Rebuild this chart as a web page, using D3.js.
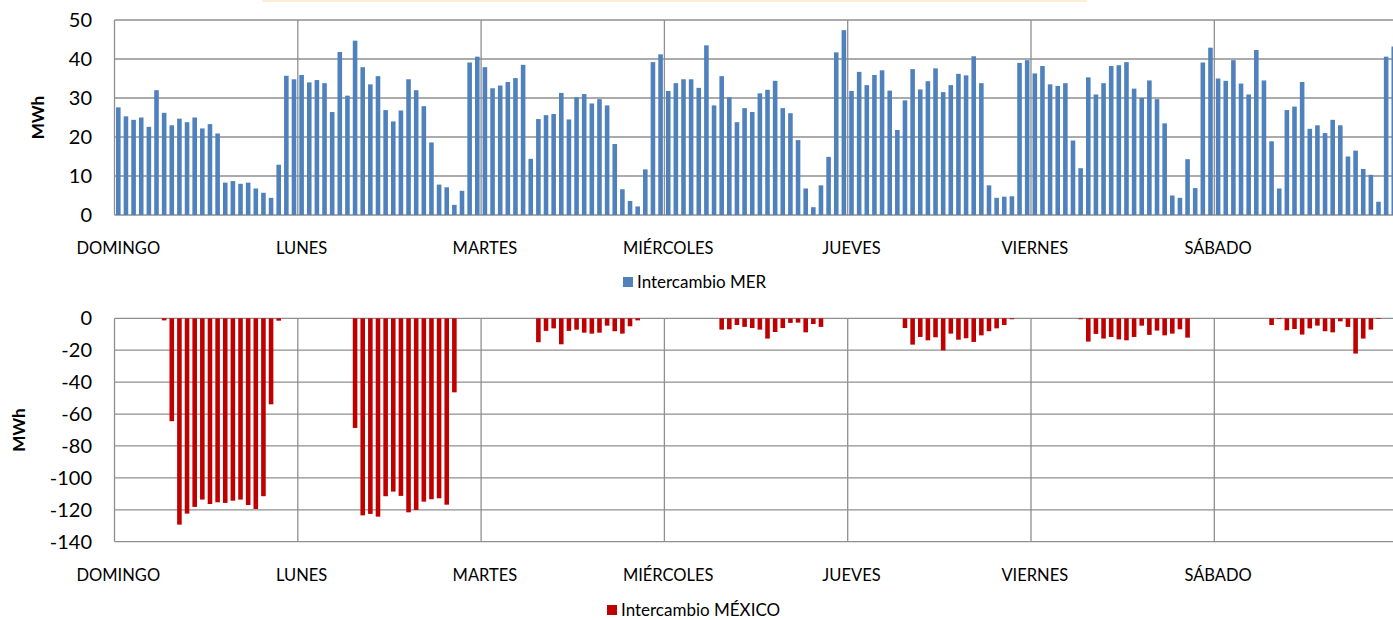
<!DOCTYPE html>
<html>
<head>
<meta charset="utf-8">
<script src="https://cdn.jsdelivr.net/npm/d3@7"></script>
<style>
  body { margin: 0; background: #fff; }
  svg { display: block; font-family: Lato, "Open Sans", sans-serif; }
  .grid line { stroke: #8f8f8f; stroke-width: 1.3; }
  .tick-label { font-size: 20px; fill: #000; }
  .day-label { font-size: 16.5px; fill: #000; }
  .legend-text { font-size: 17px; fill: #000; }
  .axis-title { font-size: 17px; font-weight: bold; fill: #000; }
</style>
</head>
<body>
<div id="chart"></div>
<script>
var days = ["DOMINGO", "LUNES", "MARTES", "MIÉRCOLES", "JUEVES", "VIERNES", "SÁBADO"];

// Intercambio MER, MWh per hour (24 per day)
var merDomingo  = [27.6,25.3,24.4,25.0,22.6,32.0,26.2,23.0,24.7,23.8,25.0,22.2,23.3,20.9,8.3,8.7,8.0,8.3,6.8,5.7,4.4,12.9,35.7,34.8];
var merLunes    = [35.9,34.0,34.6,33.8,26.4,41.8,30.6,44.7,37.9,33.5,35.6,26.9,24.0,26.8,34.8,32.0,27.9,18.6,7.8,7.1,2.6,6.2,39.1,40.6];
var merMartes   = [37.9,32.5,33.2,34.1,35.1,38.5,14.4,24.6,25.6,25.9,31.3,24.5,30.2,31.0,28.6,29.7,28.1,18.2,6.6,3.6,2.2,11.7,39.2,41.2];
var merMiercoles= [31.8,33.8,34.8,34.8,32.6,43.5,28.1,35.6,30.2,23.8,27.4,26.4,31.2,32.1,34.4,27.4,26.1,19.2,6.8,2.0,7.6,14.9,41.7,47.4];
var merJueves   = [31.8,36.7,33.3,35.9,37.1,31.9,21.8,29.4,37.4,32.2,34.3,37.6,31.5,33.3,36.2,35.8,40.7,33.8,7.6,4.4,4.7,4.8,39.0,39.7];
var merViernes  = [36.3,38.2,33.5,33.1,33.8,19.1,12.0,35.3,30.9,33.8,38.2,38.4,39.2,32.4,30.0,34.5,29.7,23.5,5.0,4.4,14.3,6.9,39.1,42.9];
var merSabado   = [35.0,34.4,39.7,33.7,30.9,42.3,34.5,18.9,6.8,26.9,27.8,34.1,22.1,23.0,21.0,24.4,23.0,15.0,16.5,11.8,10.3,3.4,40.6,43.2];

// Intercambio MÉXICO, MWh per hour (24 per day)
var mexDomingo  = [0,0,0,0,0,0,-1.3,-64.5,-129.3,-122.4,-118.2,-113.6,-116.4,-115.3,-115.7,-114.3,-113.6,-117.0,-119.5,-111.5,-53.9,-1.5,0,0];
var mexLunes    = [0,0,0,0,0,0,0,-68.7,-123.5,-122.6,-124.3,-111.5,-108.6,-111.3,-121.6,-120.1,-114.9,-113.4,-112.8,-116.8,-46.4,0,0,0];
var mexMartes   = [0,0,0,0,0,0,0,-15.0,-7.9,-6.3,-16.3,-7.9,-7.1,-9.0,-9.6,-9.0,-4.6,-8.1,-9.6,-5.0,-1.3,0,0,0];
var mexMiercoles= [0,0,0,0,0,0,0,-7.1,-6.9,-4.2,-5.4,-6.1,-7.1,-12.7,-8.6,-6.1,-2.9,-2.7,-8.8,-3.6,-5.4,0,0,0];
var mexJueves   = [0,0,0,0,0,0,0,-6.1,-16.5,-11.7,-13.8,-11.9,-20.1,-9.6,-13.4,-12.5,-14.8,-10.7,-8.1,-6.3,-4.2,-0.6,0,0];
var mexViernes  = [0,0,0,0,0,0,-0.6,-14.6,-9.8,-12.7,-11.7,-13.2,-13.8,-11.7,-4.6,-10.4,-7.7,-10.7,-9.6,-6.9,-12.1,0,0,0];
var mexSabado   = [0,0,0,0,0,0,0,-4.2,-0.5,-7.5,-6.7,-10.2,-6.3,-4.6,-8.1,-8.8,-1.9,-5.4,-22.1,-12.7,-7.1,-0.4,0,0];

var merTicks = [0, 10, 20, 30, 40, 50];
var mexTicks = [0, -20, -40, -60, -80, -100, -120, -140];

var mer = [].concat(merDomingo, merLunes, merMartes, merMiercoles, merJueves, merViernes, merSabado);
var mex = [].concat(mexDomingo, mexLunes, mexMartes, mexMiercoles, mexJueves, mexViernes, mexSabado);

var width = 1393, height = 620,
    left = 114.5, right = 1397.6;

var svg = d3.select("#chart").append("svg")
    .attr("width", width)
    .attr("height", height);

// faint edge of a box cut off at the top
svg.append("rect")
    .attr("x", 262).attr("y", -6)
    .attr("width", 825).attr("height", 8)
    .attr("fill", "#fcefd6");

var x = d3.scaleBand()
    .domain(d3.range(168))
    .range([left, right])
    .paddingInner(0.4)
    .paddingOuter(0.2);

var step = (right - left) / 168;

function panel(opts) {
  var g = svg.append("g");
  var y = d3.scaleLinear().domain(opts.domain).range([opts.bottom, opts.top]);

  var grid = g.append("g").attr("class", "grid");
  grid.selectAll(".h")
      .data(opts.ticks)
    .enter().append("line")
      .attr("x1", left).attr("x2", right)
      .attr("y1", function(d) { return y(d); })
      .attr("y2", function(d) { return y(d); });
  grid.selectAll(".v")
      .data(d3.range(8))
    .enter().append("line")
      .attr("x1", function(d) { return left + d * 24 * step; })
      .attr("x2", function(d) { return left + d * 24 * step; })
      .attr("y1", opts.top).attr("y2", opts.bottom);

  g.append("g").selectAll("rect")
      .data(opts.values)
    .enter().append("rect")
      .attr("x", function(d, i) { return x(i); })
      .attr("width", x.bandwidth())
      .attr("y", function(d) { return y(Math.max(0, d)); })
      .attr("height", function(d) { return Math.abs(y(d) - y(0)); })
      .attr("fill", opts.color);

  g.append("g").selectAll("text")
      .data(opts.ticks)
    .enter().append("text")
      .attr("class", "tick-label")
      .attr("x", 92)
      .attr("y", function(d) { return y(d); })
      .attr("dy", "0.35em")
      .attr("text-anchor", "end")
      .text(function(d) { return d; });

  g.append("g").selectAll("text")
      .data(days)
    .enter().append("text")
      .attr("class", "day-label")
      .attr("x", function(d, i) { return x(i * 24) + x.bandwidth() / 2; })
      .attr("y", opts.labelY)
      .attr("text-anchor", "middle")
      .text(function(d) { return d; });

  g.append("text")
      .attr("class", "axis-title")
      .attr("transform", "translate(" + opts.titleX + "," + ((opts.top + opts.bottom) / 2) + ") rotate(-90)")
      .attr("text-anchor", "middle")
      .text("MWh");

  var lg = g.append("g").attr("transform", "translate(" + opts.legendX + "," + opts.legendY + ")");
  lg.append("rect")
      .attr("x", 0).attr("y", -5)
      .attr("width", 10).attr("height", 10)
      .attr("fill", opts.color);
  lg.append("text")
      .attr("class", "legend-text")
      .attr("x", 14)
      .attr("dy", "0.35em")
      .text(opts.name);
}

panel({
  values: mer, domain: [0, 50], ticks: merTicks,
  top: 20, bottom: 215, color: "#4f81bd",
  labelY: 254, titleX: 44,
  legendX: 623, legendY: 282, name: "Intercambio MER"
});

panel({
  values: mex, domain: [-140, 0], ticks: mexTicks,
  top: 318.3, bottom: 541.7, color: "#c00000",
  labelY: 581, titleX: 25,
  legendX: 607, legendY: 610, name: "Intercambio MÉXICO"
});
</script>
</body>
</html>
